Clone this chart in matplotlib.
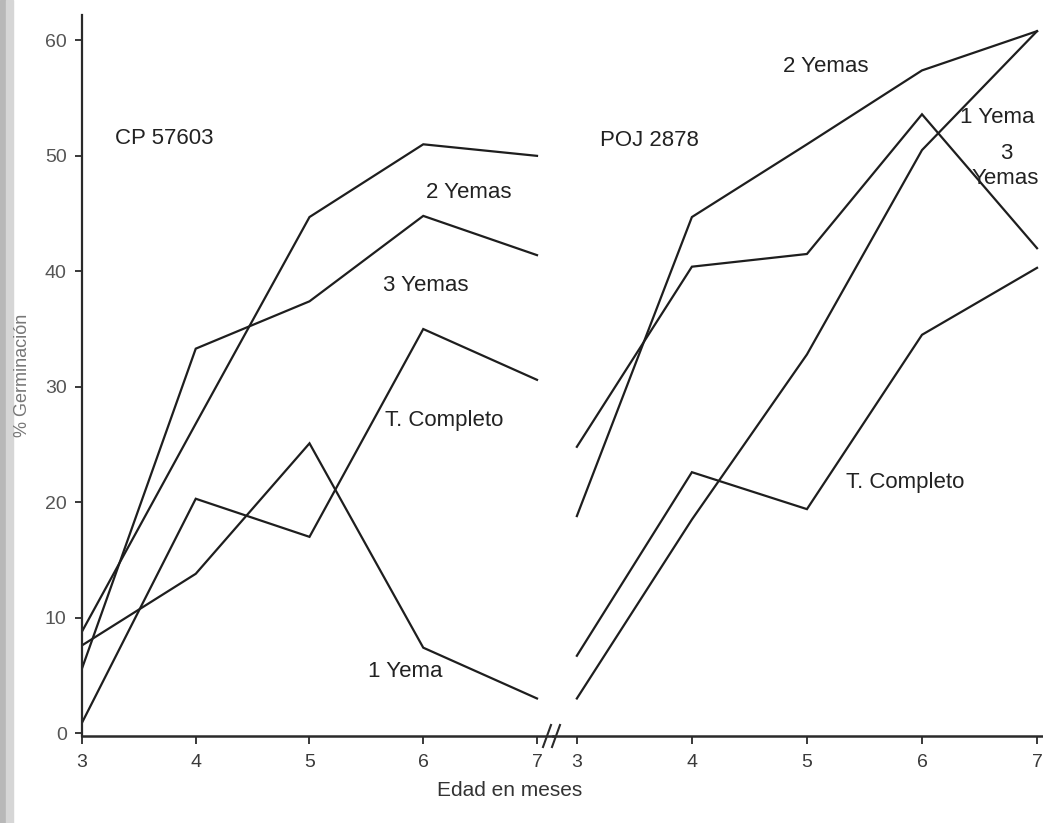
import numpy as np
import matplotlib
matplotlib.use('Agg')
import matplotlib.pyplot as plt
from matplotlib.lines import Line2D
from matplotlib.patches import Rectangle

plt.rcParams['font.family'] = ['Liberation Sans', 'DejaVu Sans']

# Data
months = [3, 4, 5, 6, 7]
month_labels = ['3', '4', '5', '6', '7']
germ_ticks = [0, 10, 20, 30, 40, 50, 60]

# CP 57603
cp_2yemas = [8.8, 26.8, 44.7, 51.0, 50.0]
cp_3yemas = [5.6, 33.3, 37.4, 44.8, 41.4]
cp_completo = [0.9, 20.3, 17.0, 35.0, 30.6]
cp_1yema = [7.6, 13.8, 25.1, 7.4, 3.0]

# POJ 2878
poj_2yemas = [18.8, 44.7, 51.0, 57.4, 60.8]
poj_3yemas = [24.8, 40.4, 41.5, 53.6, 42.0]
poj_1yema = [3.0, 18.5, 32.8, 50.5, 60.8]
poj_completo = [6.7, 22.6, 19.4, 34.5, 40.3]

W, H = 1043, 823
fig = plt.figure(figsize=(W / 100, H / 100), dpi=100)
fig.patch.set_facecolor('white')

# scan shadow on the left edge
fig.patches.append(Rectangle((0, 0), 6 / W, 1, transform=fig.transFigure,
                             color='#b8b8b8', zorder=0))
fig.patches.append(Rectangle((6 / W, 0), 7 / W, 1, transform=fig.transFigure,
                             color='#d6d6d6', zorder=0))

bottom = 1 - 736 / H
height = (736 - 15) / H
ax1 = fig.add_axes([82 / W, bottom, (553 - 82) / W, height])
ax2 = fig.add_axes([553 / W, bottom, (W - 553) / W, height])

lc = '#1e1e1e'
lw = 1.6
for s in [cp_2yemas, cp_3yemas, cp_completo, cp_1yema]:
    ax1.plot(months, s, color=lc, lw=lw, solid_joinstyle='miter')
for s in [poj_2yemas, poj_3yemas, poj_1yema, poj_completo]:
    ax2.plot(months, s, color=lc, lw=lw, solid_joinstyle='miter')

ylim = (-0.25, 62.2)
ax1.set_xlim(3, 3 + (553 - 82) / 113.75)
ax2.set_xlim(3 - (577 - 553) / 115.75, 7 + 6 / 115.75)
for ax in (ax1, ax2):
    ax.set_ylim(*ylim)
    ax.set_facecolor('none')
    ax.spines['top'].set_visible(False)
    ax.spines['right'].set_visible(False)
    ax.spines['bottom'].set_linewidth(1.8)
    ax.spines['bottom'].set_color('#2a2a2a')
    ax.set_xticks(months)
    ax.set_xticklabels(month_labels)
    ax.tick_params(axis='x', direction='out', length=6, width=1.3,
                   colors='#2a2a2a', labelcolor='#3a3a3a', labelsize=14, pad=7)

ax1.spines['left'].set_linewidth(1.6)
ax1.spines['left'].set_color('#2a2a2a')
ax1.set_yticks(germ_ticks)
ax1.tick_params(axis='y', direction='out', length=5, width=1.3,
                colors='#2a2a2a', labelcolor='#555555', labelsize=14, pad=6)
ax2.spines['left'].set_visible(False)
ax2.set_yticks([])

# axis break marks
for x0 in (547, 556):
    fig.lines.append(Line2D([(x0 - 4) / W, (x0 + 4) / W],
                            [1 - 747 / H, 1 - 725 / H],
                            transform=fig.transFigure, color='#2a2a2a', lw=1.5))

tkw = dict(fontsize=16, color='#222222')
ax1.text(3.29, 51.5, 'CP 57603', va='center', ha='left', **tkw)
ax1.text(6.02, 46.8, '2 Yemas', va='center', ha='left', **tkw)
ax1.text(5.65, 38.8, '3 Yemas', va='center', ha='left', **tkw)
ax1.text(5.66, 27.1, 'T. Completo', va='center', ha='left', **tkw)
ax1.text(5.51, 5.3, '1 Yema', va='center', ha='left', **tkw)

ax2.text(3.2, 51.3, 'POJ 2878', va='center', ha='left', **tkw)
ax2.text(4.79, 57.7, '2 Yemas', va='center', ha='left', **tkw)
ax2.text(6.33, 53.3, '1 Yema', va='center', ha='left', **tkw)
ax2.text(6.73, 50.2, '3', va='center', ha='center', **tkw)
ax2.text(6.43, 48.0, 'Yemas', va='center', ha='left', **tkw)
ax2.text(5.34, 21.7, 'T. Completo', va='center', ha='left', **tkw)

fig.text(510 / W, 1 - 790 / H, 'Edad en meses', ha='center', va='center',
         fontsize=15, color='#333333')
fig.text(23 / W, 1 - 375 / H, '% Germinación', ha='center', va='center',
         rotation=90, fontsize=13, color='#777777')

fig.savefig('out.png', dpi=100)
